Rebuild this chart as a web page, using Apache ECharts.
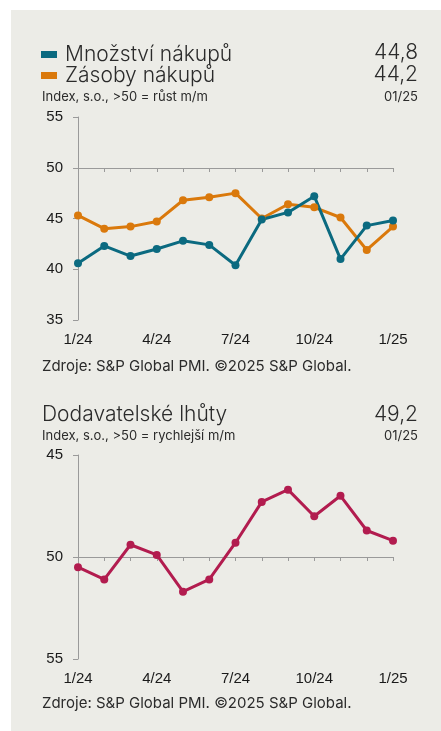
<!DOCTYPE html>
<html>
<head>
<meta charset="utf-8">
<script src="https://cdn.jsdelivr.net/npm/echarts@6/dist/echarts.min.js"></script>
<style>
  html, body { margin: 0; padding: 0; background: #fff; }
  #chart { width: 441px; height: 731px; }
</style>
</head>
<body>
<div id="chart"></div>
<script>
// data
var months = ['1/24', '2/24', '3/24', '4/24', '5/24', '6/24', '7/24', '8/24', '9/24', '10/24', '11/24', '12/24', '1/25'];
var mnozstvi = [40.6, 42.3, 41.3, 42.0, 42.8, 42.4, 40.4, 44.9, 45.6, 47.2, 41.0, 44.3, 44.8];
var zasoby = [45.3, 44.0, 44.2, 44.7, 46.8, 47.1, 47.5, 45.0, 46.4, 46.1, 45.1, 41.9, 44.2];
var lhuty = [50.5, 51.1, 49.4, 49.9, 51.7, 51.1, 49.3, 47.3, 46.7, 48.0, 47.0, 48.7, 49.2];
var topTicks = [35, 40, 45, 50, 55];
var bottomTicks = [45, 50, 55];

var TEAL = '#0b6a80';
var ORANGE = '#da790c';
var RED = '#b21c4f';
var AXIS = '#9a9a9a';
var TXT = '#2b2b2b';
var sans = 'Inter, "Noto Sans", sans-serif';
var arial = '"Liberation Sans", Arial, sans-serif';

var myChart = echarts.init(document.getElementById('chart'));

function txt(x, y, text, size, align, weight) {
  return {
    type: 'text', x: x, y: y,
    style: {
      text: text, fill: TXT, font: (weight || 'normal') + ' ' + size + 'px ' + sans,
      textAlign: align || 'left', textVerticalAlign: 'middle'
    }
  };
}

function catAxis(gridIndex) {
  return {
    type: 'category', gridIndex: gridIndex, data: months, boundaryGap: false,
    axisLine: { show: false }, axisTick: { show: false },
    axisLabel: { interval: 2, margin: 12, color: '#1a1a1a', fontSize: 15, fontFamily: arial }
  };
}
// second x axis only for the line at 50 with its ticks
function midAxis(gridIndex, offset) {
  return {
    type: 'category', gridIndex: gridIndex, data: months, boundaryGap: false,
    position: 'bottom', offset: offset,
    axisLine: { show: true, lineStyle: { color: AXIS, width: 1 } },
    axisTick: { show: true, interval: 0, length: 4, lineStyle: { color: AXIS } },
    axisLabel: { show: false }
  };
}
function valAxis(gridIndex, ticks, inverse) {
  return {
    type: 'value', gridIndex: gridIndex, inverse: inverse,
    min: ticks[0], max: ticks[ticks.length - 1], interval: 5,
    axisLine: { show: true, lineStyle: { color: AXIS, width: 1 } },
    axisTick: { show: true, length: 5, lineStyle: { color: AXIS } },
    splitLine: { show: false },
    axisLabel: { margin: 15, color: '#1a1a1a', fontSize: 15, fontFamily: arial }
  };
}
function lineSeries(name, data, color, xi, yi) {
  return {
    name: name, type: 'line', data: data, xAxisIndex: xi, yAxisIndex: yi,
    symbol: 'circle', symbolSize: 8, showSymbol: true,
    lineStyle: { color: color, width: 3 },
    itemStyle: { color: color },
    z: 3
  };
}

var option = {
  backgroundColor: '#fff',
  animation: false,
  graphic: [
    { type: 'rect', shape: { x: 11, y: 10, width: 430, height: 721 }, style: { fill: '#ecece7' }, z: -10 },
    txt(418, 53, '44,8', 21, 'right', 300),
    txt(418, 75, '44,2', 21, 'right', 300),
    txt(42, 97, 'Index, s.o., >50 = růst m/m', 13),
    txt(418, 97, '01/25', 13, 'right'),
    txt(42, 366, 'Zdroje: S&P Global PMI. ©2025 S&P Global.', 15),
    txt(42, 415, 'Dodavatelské lhůty', 21, 'left', 300),
    txt(418, 415, '49,2', 21, 'right', 300),
    txt(42, 436, 'Index, s.o., >50 = rychlejší m/m', 13),
    txt(418, 436, '01/25', 13, 'right'),
    txt(42, 703, 'Zdroje: S&P Global PMI. ©2025 S&P Global.', 15)
  ],
  legend: {
    orient: 'vertical', left: 36, top: 39, itemGap: 0,
    icon: 'rect', itemWidth: 16, itemHeight: 7,
    data: ['Množství nákupů', 'Zásoby nákupů'],
    textStyle: { color: TXT, fontSize: 21, fontWeight: 300, lineHeight: 21, fontFamily: sans, padding: [0, 0, 0, 3] }
  },
  grid: [
    { left: 78, right: 48, top: 117, height: 203 },
    { left: 78, right: 48, top: 455, height: 204 }
  ],
  xAxis: [
    catAxis(0), midAxis(0, -152),
    catAxis(1), midAxis(1, -102)
  ],
  yAxis: [
    valAxis(0, topTicks, false),
    valAxis(1, bottomTicks, true)
  ],
  series: [
    lineSeries('Zásoby nákupů', zasoby, ORANGE, 0, 0),
    lineSeries('Množství nákupů', mnozstvi, TEAL, 0, 0),
    lineSeries('Dodavatelské lhůty', lhuty, RED, 2, 1)
  ]
};
myChart.setOption(option);
</script>
</body>
</html>
